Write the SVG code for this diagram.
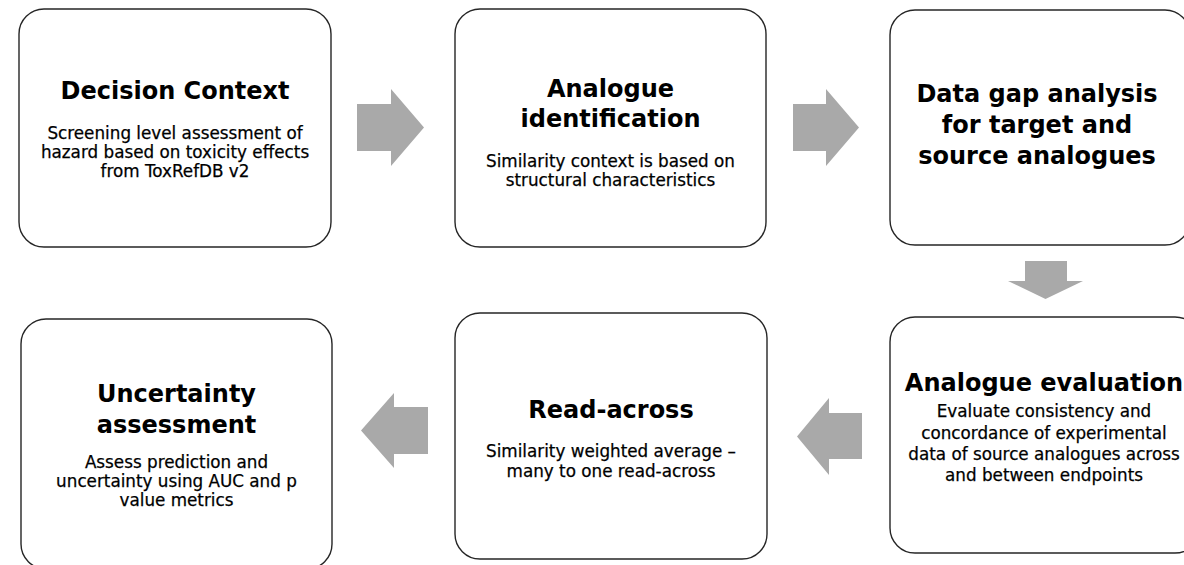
<svg xmlns="http://www.w3.org/2000/svg" width="1184" height="565" viewBox="0 0 1184 565">
<style>
.box{fill:#ffffff;stroke:#262626;stroke-width:1.4}
.arrow{fill:#a9a9a9;stroke:none}
.title{font-family:"DejaVu Sans","Liberation Sans",sans-serif;font-weight:bold;font-size:24px;fill:#000;text-anchor:middle}
.body{font-family:"DejaVu Sans","Liberation Sans",sans-serif;font-size:16.8px;fill:#000;stroke:#000;stroke-width:0.25;text-anchor:middle}
</style>
<rect width="1184" height="565" fill="#ffffff"/>
<g id="connectors">
<polygon class="arrow" points="357,104 391,104 391,89 424,127.5 391,166 391,151 357,151"/>
<polygon class="arrow" points="793,104 826,104 826,89 859,127.5 826,166 826,151 793,151"/>
<polygon class="arrow" points="1025,261 1067,261 1067,281 1083,281 1045.5,299 1008,281 1025,281"/>
<polygon class="arrow" points="862,413 829,413 829,398 797,436.5 829,475 829,459 862,459"/>
<polygon class="arrow" points="428,407 394,407 394,393 361,430.5 394,468 394,454 428,454"/>
</g>
<g id="decision-context">
<rect class="box" x="19" y="9" width="312" height="238" rx="25" ry="25"/>
<text class="title" x="175" y="99">Decision Context</text>
<text class="body" x="175" y="139">Screening level assessment of</text>
<text class="body" x="175" y="158">hazard based on toxicity effects</text>
<text class="body" x="175" y="177">from ToxRefDB v2</text>
</g>
<g id="analogue-identification">
<rect class="box" x="455" y="9" width="311" height="238" rx="25" ry="25"/>
<text class="title" x="610.5" y="97">Analogue</text>
<text class="title" x="610.5" y="127">identification</text>
<text class="body" x="610.5" y="167">Similarity context is based on</text>
<text class="body" x="610.5" y="186">structural characteristics</text>
</g>
<g id="data-gap-analysis">
<rect class="box" x="890" y="10" width="300" height="235" rx="25" ry="25"/>
<text class="title" x="1037" y="102">Data gap analysis</text>
<text class="title" x="1037" y="133">for target and</text>
<text class="title" x="1037" y="164">source analogues</text>
</g>
<g id="analogue-evaluation">
<rect class="box" x="890" y="317" width="310" height="236" rx="25" ry="25"/>
<text class="title" x="1044" y="391">Analogue evaluation</text>
<text class="body" x="1044" y="417">Evaluate consistency and</text>
<text class="body" x="1044" y="438.5">concordance of experimental</text>
<text class="body" x="1044" y="460">data of source analogues across</text>
<text class="body" x="1044" y="481">and between endpoints</text>
</g>
<g id="read-across">
<rect class="box" x="455" y="313" width="312" height="246" rx="25" ry="25"/>
<text class="title" x="611" y="418">Read-across</text>
<text class="body" x="611" y="457">Similarity weighted average –</text>
<text class="body" x="611" y="477">many to one read-across</text>
</g>
<g id="uncertainty-assessment">
<rect class="box" x="21" y="319" width="311" height="250" rx="25" ry="25"/>
<text class="title" x="176.5" y="402">Uncertainty</text>
<text class="title" x="176.5" y="433">assessment</text>
<text class="body" x="176.5" y="468">Assess prediction and</text>
<text class="body" x="176.5" y="487">uncertainty using AUC and p</text>
<text class="body" x="176.5" y="506">value metrics</text>
</g>
</svg>
